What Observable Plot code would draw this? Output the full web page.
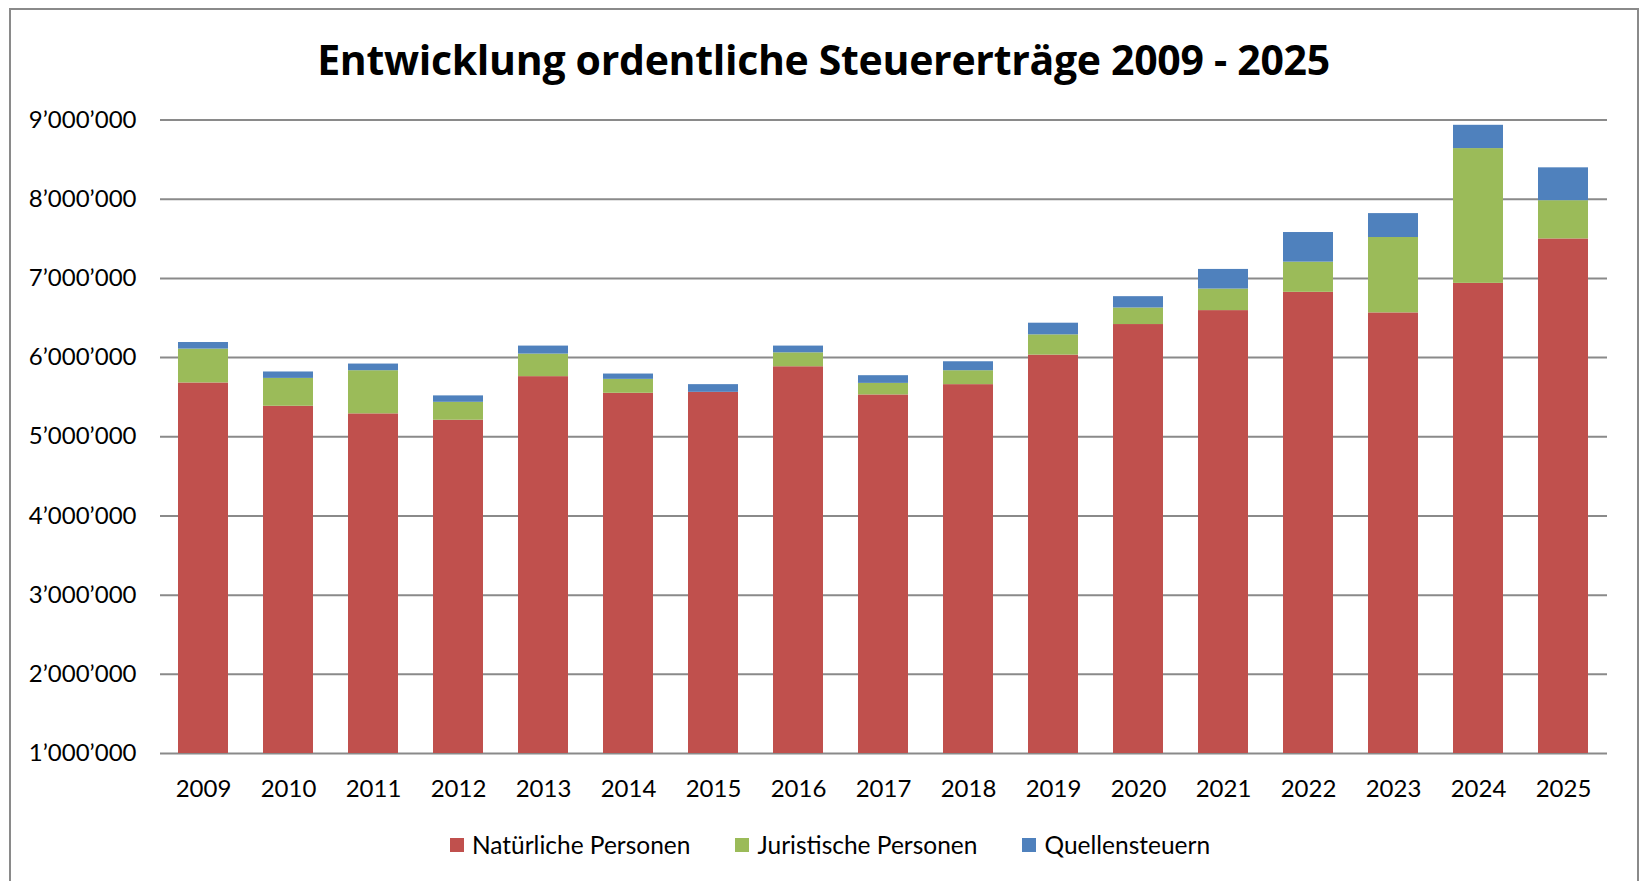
<!DOCTYPE html>
<html>
<head>
<meta charset="utf-8">
<script src="https://cdn.jsdelivr.net/npm/d3@7"></script>
<script src="https://cdn.jsdelivr.net/npm/@observablehq/plot@0.6"></script>
<style>
  html, body { margin: 0; padding: 0; background: #fff; }
  body { width: 1643px; height: 881px; position: relative; overflow: hidden; font-family: Lato, "Open Sans", sans-serif; color: #000; }
  #frame { position: absolute; left: 9px; top: 8px; width: 1630px; height: 940px; border: 2.5px solid #8a8a8a; box-sizing: border-box; pointer-events: none; }
  #title { position: absolute; left: 0; top: 34px; width: 1647px; text-align: center; font-family: "Open Sans", Lato, sans-serif; font-weight: 700; font-size: 41px; line-height: 50px; white-space: nowrap; letter-spacing: -0.3px; }
  #chart { position: absolute; left: 0; top: 0; }
  #legend { position: absolute; left: 0; top: 830px; width: 1643px; display: flex; justify-content: center; gap: 45px; font-size: 24.5px; line-height: 30px; padding-left: 17px; box-sizing: border-box; }
  #legend .item { display: flex; align-items: center; gap: 8px; }
  #legend .sw { width: 14px; height: 14px; display: inline-block; }
</style>
</head>
<body>
<div id="title">Entwicklung ordentliche Steuererträge 2009 - 2025</div>
<div id="chart"></div>
<div id="legend"></div>
<div id="frame"></div>
<script>
// ---- data ----
const years = ["2009","2010","2011","2012","2013","2014","2015","2016","2017","2018","2019","2020","2021","2022","2023","2024","2025"];
const seriesNames = ["Natürliche Personen", "Juristische Personen", "Quellensteuern"];
const seriesColors = ["#C0504D", "#9BBB59", "#4F81BD"];
const natuerlichePersonen = [5679000, 5385000, 5289000, 5209000, 5759000, 5549000, 5561000, 5884000, 5528000, 5658000, 6031000, 6417000, 6593000, 6824000, 6564000, 6937000, 7498000];
const juristischePersonen = [428000, 352000, 545000, 226000, 285000, 176000, 0, 176000, 146000, 176000, 256000, 209000, 272000, 381000, 952000, 1702000, 483000];
const quellensteuern = [83000, 81000, 84000, 81000, 101000, 67000, 97000, 85000, 97000, 113000, 147000, 143000, 248000, 374000, 302000, 294000, 415000];
const yTicks = [1000000, 2000000, 3000000, 4000000, 5000000, 6000000, 7000000, 8000000, 9000000];

// ---- table for Plot ----
const seriesValues = [natuerlichePersonen, juristischePersonen, quellensteuern];
const table = [];
years.forEach((yr, i) => {
  seriesNames.forEach((s, k) => table.push({ year: yr, series: s, value: seriesValues[k][i] }));
});

const fmt = d3.formatLocale({ decimal: ".", thousands: "\u2019", grouping: [3], currency: ["", ""] }).format(",");

const chart = Plot.plot({
  width: 1643,
  height: 810,
  marginTop: 119.5,
  marginBottom: 57,
  marginLeft: 160,
  marginRight: 36,
  style: { fontFamily: "Lato, 'Open Sans', sans-serif", fontSize: "24px", color: "#000", background: "transparent", overflow: "visible" },
  x: { domain: years, paddingInner: 0.41, paddingOuter: 0.205, label: null, axis: null },
  y: { domain: [1000000, 9000000], clamp: true, label: null, axis: null },
  color: { domain: seriesNames, range: seriesColors },
  marks: [
    Plot.ruleY(yTicks, { stroke: "#8a8a8a", strokeWidth: 2 }),
    Plot.barY(table, { x: "year", y: "value", fill: "series" }),
    Plot.axisX({ tickSize: 0, tickPadding: 26, label: null }),
    Plot.axisY(yTicks, { tickSize: 0, tickPadding: 24, tickFormat: fmt, label: null })
  ]
});
document.getElementById("chart").appendChild(chart);

// ---- legend ----
const legend = document.getElementById("legend");
seriesNames.forEach((s, k) => {
  const item = document.createElement("div");
  item.className = "item";
  const sw = document.createElement("span");
  sw.className = "sw";
  sw.style.background = seriesColors[k];
  const t = document.createElement("span");
  t.textContent = s;
  item.appendChild(sw); item.appendChild(t);
  legend.appendChild(item);
});
</script>
</body>
</html>
